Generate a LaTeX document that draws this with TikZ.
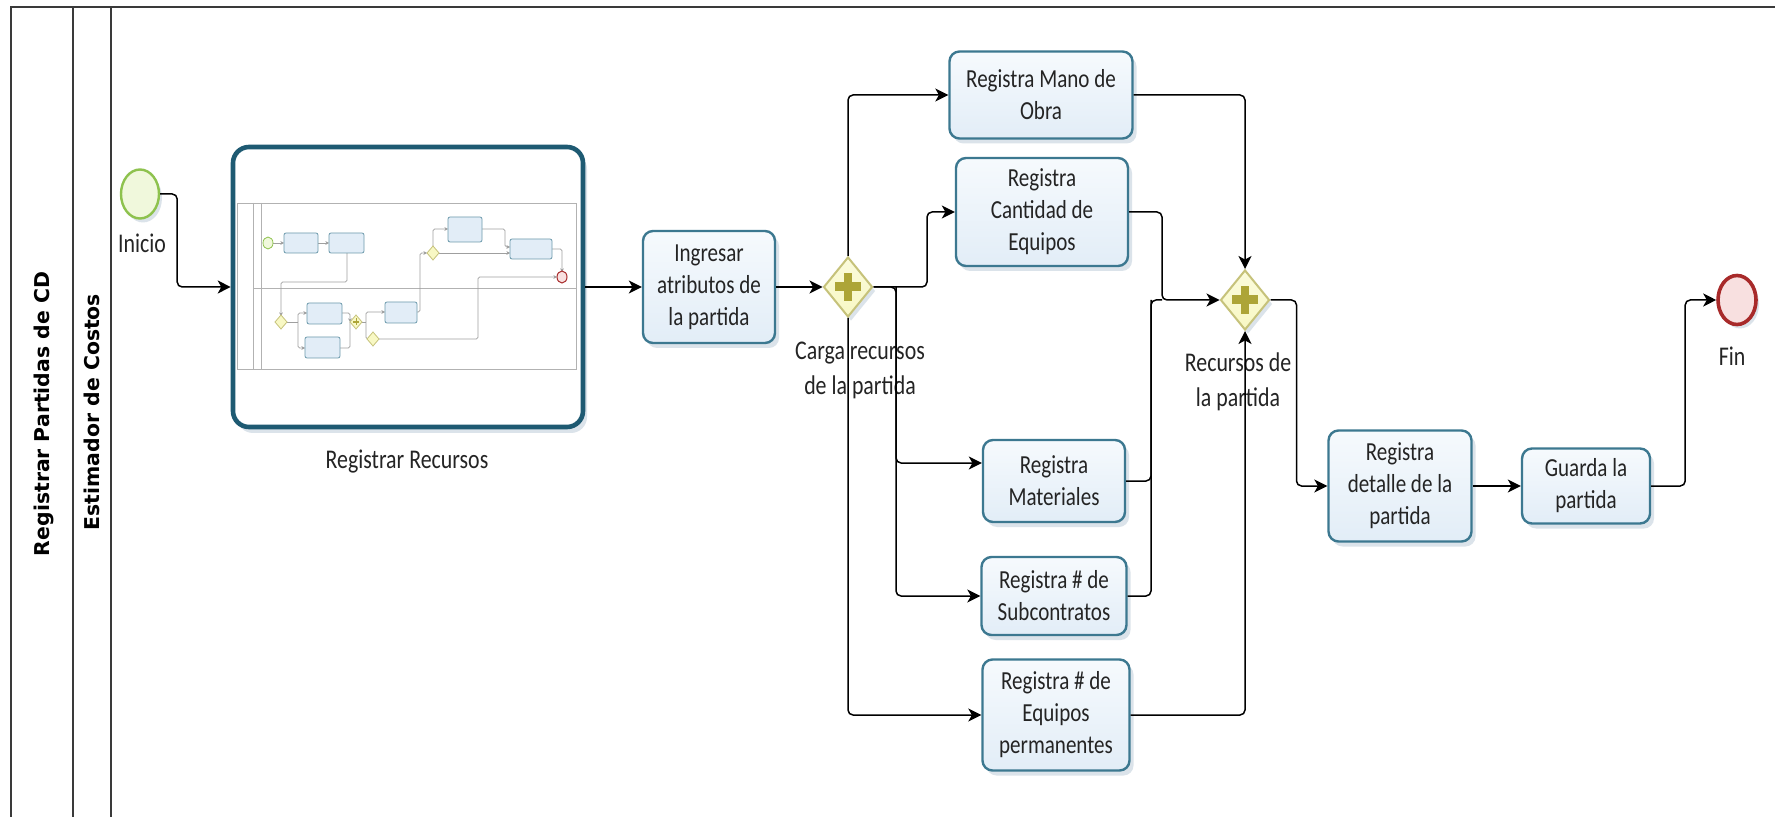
\documentclass[tikz,border=0pt]{standalone}
\usepackage{graphicx}
\usepackage{fontspec}
\setmainfont{Carlito}[FakeStretch=0.81]
\newfontfamily\lanefont{DejaVu Sans}
\usetikzlibrary{arrows.meta,shapes.geometric,shadows,calc}

\definecolor{taskborder}{HTML}{3C7890}
\definecolor{subborder}{HTML}{1E5A72}
\definecolor{taskTop}{HTML}{F6FAFD}
\definecolor{taskBot}{HTML}{E2EDF7}
\definecolor{shadowc}{HTML}{B9C9D6}
\definecolor{gwfill}{HTML}{F8F8C4}
\definecolor{gwborder}{HTML}{C6C27A}
\definecolor{plusc}{HTML}{ADA537}
\definecolor{startfill}{HTML}{F0F8DC}
\definecolor{startborder}{HTML}{8EC24E}
\definecolor{endfill}{HTML}{F8E0E0}
\definecolor{endborder}{HTML}{A82A2A}
\definecolor{txt}{HTML}{242424}
\definecolor{framec}{HTML}{3A3A3A}

\newcommand\bxfont{\fontsize{13pt}{16pt}\selectfont}
\newcommand\lbfont{\fontsize{13.5pt}{17.5pt}\selectfont}

\begin{document}
\begin{tikzpicture}[x=0.5pt,y=-0.5pt,
  pool/.style={draw=framec, line width=0.8pt},
  lanetitle/.style={rotate=90, text=black, inner sep=0pt,
    font=\lanefont\bfseries\fontsize{10.2pt}{12pt}\selectfont},
  task/.style={rectangle, rounded corners=5pt, draw=taskborder, line width=1.2pt,
    top color=taskTop, bottom color=taskBot, align=center, text=txt, font=\bxfont,
    inner sep=2pt,
    drop shadow={shadow xshift=2pt, shadow yshift=-2.5pt, fill=shadowc, opacity=0.5}},
  subproc/.style={rectangle, rounded corners=8pt, draw=subborder, line width=2.3pt,
    fill=white, minimum width=175pt, minimum height=140pt,
    drop shadow={shadow xshift=2pt, shadow yshift=-3pt, fill=shadowc, opacity=0.5}},
  gw/.style={diamond, draw=gwborder, line width=1pt, inner sep=0pt,
    minimum width=24.5pt, minimum height=30pt, top color=gwfill!60!white, bottom color=gwfill,
    drop shadow={shadow xshift=1.5pt, shadow yshift=-2pt, fill=shadowc, opacity=0.5},
    path picture={
      \fill[plusc] ([xshift=-6.5pt,yshift=-2.25pt]path picture bounding box.center) rectangle ++(13pt,4.5pt);
      \fill[plusc] ([xshift=-2pt,yshift=-7pt]path picture bounding box.center) rectangle ++(4pt,14pt);
    }},
  startev/.style={ellipse, draw=startborder, line width=1.2pt, inner sep=0pt,
    minimum width=19pt, minimum height=24.5pt, fill=startfill,
    drop shadow={shadow xshift=1.5pt, shadow yshift=-2pt, fill=shadowc, opacity=0.5}},
  endev/.style={ellipse, draw=endborder, line width=1.8pt, inner sep=0pt,
    minimum width=19pt, minimum height=24.5pt, fill=endfill,
    drop shadow={shadow xshift=1.5pt, shadow yshift=-2pt, fill=shadowc, opacity=0.5}},
  lbl/.style={align=center, text=txt, font=\lbfont, inner sep=1pt},
  flow/.style={draw=black, line width=0.75pt, rounded corners=2.5pt,
    -{Stealth[length=6.5pt,width=6.5pt,inset=1.8pt]}},
  plainflow/.style={draw=black, line width=0.75pt, rounded corners=2.5pt},
  mline/.style={draw=gray!75, line width=0.35pt, rounded corners=0.8pt,
    -{Stealth[length=1.8pt,width=1.8pt]}},
  mplain/.style={draw=gray!75, line width=0.35pt, rounded corners=0.8pt},
  mbox/.style={draw=taskborder!75, fill=taskBot, line width=0.4pt, rounded corners=1pt},
  mgw/.style={draw=gwborder, fill=gwfill, line width=0.4pt}
]
\useasboundingbox (0,0) rectangle (1775,817);
\fill[white] (0,0) rectangle (1775,817);

% pool and lane frame
\draw[pool] (11,817) -- (11,7) -- (1775,7);
\draw[pool] (73,7) -- (73,817);
\draw[pool] (111,7) -- (111,817);
\node[lanetitle] (pooltitle) at (44,414) {Registrar Partidas de CD};
\node[lanetitle] (lanetitle) at (92,412) {Estimador de Costos};

% start event
\node[startev] (inicio) at (140,194) {};
\node[lbl] (inicioL) at (142,243) {Inicio};

% collapsed sub-process with its thumbnail
\node[subproc] (regrec) at (408,287) {};
\node[lbl] (regrecL) at (407,462) {Registrar Recursos};

\begin{scope}
  % thumbnail pool
  \draw[draw=gray!60, line width=0.4pt] (237,203) rectangle (576,369);
  \draw[draw=gray!60, line width=0.4pt] (253,203) -- (253,369);
  \draw[draw=gray!60, line width=0.4pt] (261,203) -- (261,369);
  \draw[draw=gray!60, line width=0.4pt] (253,288) -- (576,288);
  % thumbnail flow
  \draw[mline] (273,243) -- (284,243);
  \draw[mline] (318,243) -- (329,243);
  \draw[mline] (347,253) -- (347,282) -- (281,282) -- (281,316);
  \draw[mplain] (287,322) -- (298,322);
  \draw[mline] (298,322) |- (307,313);
  \draw[mline] (298,322) |- (305,348);
  \draw[mline] (342,313) -- (350,313) -- (350,322);
  \draw[mplain] (340,348) -- (350,348) -- (350,322);
  \draw[mplain] (362,322) -- (366,322);
  \draw[mline] (366,322) |- (385,312);
  \draw[mline] (366,322) |- (367,339);
  \draw[mline] (379,339) -- (478,339) -- (478,277) -- (557,277);
  \draw[mline] (417,312) -- (420,312) -- (420,253) -- (427,253);
  \draw[mline] (433,247) |- (448,229);
  \draw[mline] (439,253) -- (510,253);
  \draw[mline] (482,229) -- (505,229) -- (505,247) -- (510,247);
  \draw[mline] (552,249) -- (562,249) -- (562,272);
  % thumbnail tasks
  \draw[mbox] (284,233) rectangle (318,253);
  \draw[mbox] (329,233) rectangle (364,253);
  \draw[mbox] (307,303) rectangle (342,324);
  \draw[mbox] (305,337) rectangle (340,358);
  \draw[mbox] (385,302) rectangle (417,323);
  \draw[mbox] (448,217) rectangle (482,242);
  \draw[mbox] (510,239) rectangle (552,259);
  % thumbnail events and gateways
  \draw[draw=startborder, fill=startfill, line width=0.4pt] (268,243) ellipse (2.5pt and 3pt);
  \draw[draw=endborder, fill=endfill, line width=0.5pt] (562,277) ellipse (2.5pt and 3pt);
  \draw[mgw] (275,322) -- (281,315) -- (287,322) -- (281,329) -- cycle;
  \draw[mgw] (350,322) -- (356,315) -- (362,322) -- (356,329) -- cycle;
  \draw[mgw] (367,339) -- (373,332) -- (379,339) -- (373,346) -- cycle;
  \draw[mgw] (427,253) -- (433,246) -- (439,253) -- (433,260) -- cycle;
  \fill[plusc] (353,321) rectangle (359,323);
  \fill[plusc] (355.5,318.5) rectangle (356.5,325.5);
\end{scope}

% tasks, gateways and end event
\node[task, minimum width=66pt, minimum height=56pt] (ingresar) at (709,287) {Ingresar\\atributos de\\la partida};
\node[gw] (carga) at (848,287) {};
\node[lbl] (cargaL) at (860,370) {Carga recursos\\de la partida};

\node[task, minimum width=91.5pt, minimum height=43.5pt] (mano) at (1041,95) {Registra Mano de\\Obra};
\node[task, minimum width=86pt, minimum height=54pt] (cant) at (1042,212) {Registra\\Cantidad de\\Equipos};
\node[task, minimum width=71pt, minimum height=41pt] (mat) at (1054,481) {Registra\\Materiales};
\node[task, minimum width=72.5pt, minimum height=39pt] (subc) at (1054,596) {Registra \# de\\Subcontratos};
\node[task, minimum width=73.5pt, minimum height=55.5pt] (eqp) at (1056,715) {Registra \# de\\Equipos\\permanentes};

\node[gw] (recursos) at (1245,300) {};
\node[lbl] (recursosL) at (1238,382) {Recursos de\\la partida};

\node[task, minimum width=71.5pt, minimum height=55.5pt] (detalle) at (1400,486) {Registra\\detalle de la\\partida};
\node[task, minimum width=64pt, minimum height=37.5pt] (guarda) at (1586,486) {Guarda la\\partida};
\node[endev] (fin) at (1737,300) {};
\node[lbl] (finL) at (1732,356) {Fin};

% sequence flows
\coordinate (splitM) at (896,287);
\coordinate (splitC) at (927,287);
\coordinate (joinM) at (1151,300);
\coordinate (joinC) at (1162,300);

\draw[flow] (inicio.east) -- ++(17,0) |- (regrec.west);
\draw[flow] (regrec.east) -- (ingresar.west);
\draw[flow] (ingresar.east) -- (carga.west);
\draw[flow] (carga.north) |- (mano.west);
\draw[flow] (carga.east) -- (splitC) |- (cant.west);
\draw[flow] (carga.east) -- (splitM) |- ($(mat.west)+(0,-18)$);
\draw[flow] (splitM) |- (subc.west);
\draw[flow] (carga.south) |- (eqp.west);

\draw[flow] (mano.east) -| (recursos.north);
\draw[flow] (cant.east) -| (joinC) -- (recursos.west);
\draw[plainflow] (mat.east) -| (joinM) -- (joinC);
\draw[plainflow] (subc.east) -| (joinM);
\draw[flow] (eqp.east) -| (recursos.south);

\draw[flow] (recursos.east) -- ++(26,0) |- (detalle.west);
\draw[flow] (detalle.east) -- (guarda.west);
\draw[flow] (guarda.east) -- ++(34,0) |- (fin.west);
\end{tikzpicture}
\end{document}
